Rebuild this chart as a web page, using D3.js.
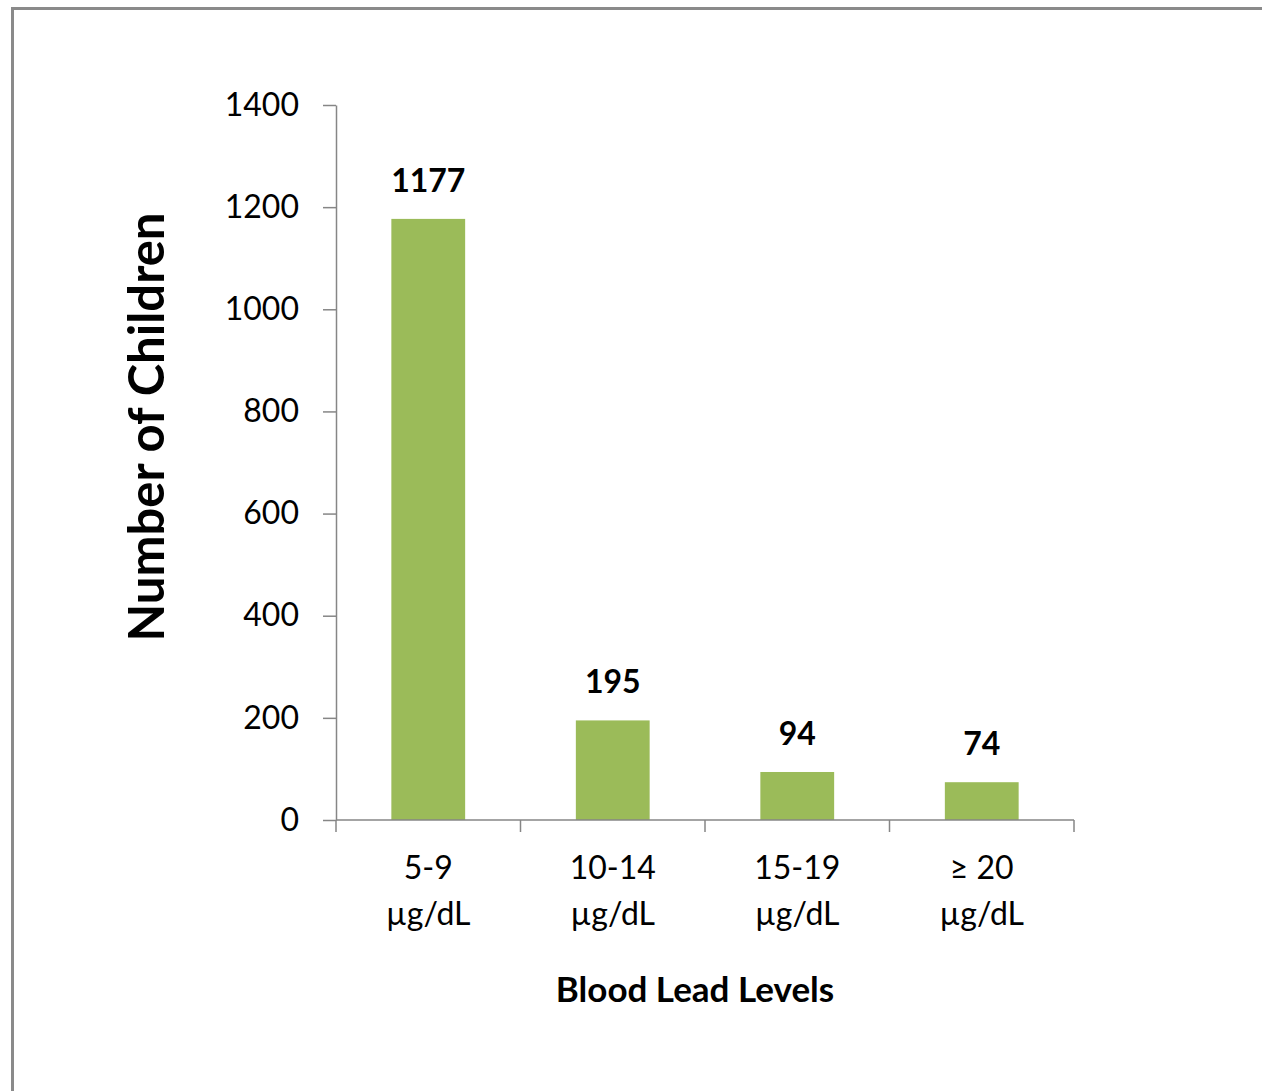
<!DOCTYPE html>
<html>
<head>
<meta charset="utf-8">
<script src="https://cdn.jsdelivr.net/npm/d3@7"></script>
<style>
  html, body { margin: 0; padding: 0; background: #fff; }
  svg { display: block; }
  text { font-family: Lato, "Open Sans", sans-serif; fill: #000; }
</style>
</head>
<body>
<svg id="chart" width="1262" height="1091"></svg>
<script>
const categories = ["5-9", "10-14", "15-19", "\u2265 20"];
const unitLabel = "\u00b5g/dL";
const values = [1177, 195, 94, 74];
const yTicks = [0, 200, 400, 600, 800, 1000, 1200, 1400];
const yTitle = "Number of Children";
const xTitle = "Blood Lead Levels";

const svg = d3.select("#chart");
const axisColor = "#868686";

// outer chart border (right & bottom run off the picture)
svg.append("rect")
  .attr("x", 12.5).attr("y", 8.5)
  .attr("width", 1300).attr("height", 1200)
  .attr("fill", "none")
  .attr("stroke", "#8a8a8a")
  .attr("stroke-width", 3);

const plot = { left: 336, right: 1074, top: 105, bottom: 820 };

const x = d3.scaleBand()
  .domain(categories)
  .range([plot.left, plot.right])
  .paddingInner(0.6)
  .paddingOuter(0.3);

const y = d3.scaleLinear()
  .domain([0, 1400])
  .range([plot.bottom, plot.top]);

// y axis
const yAxis = svg.append("g")
  .attr("transform", `translate(${plot.left},0)`)
  .call(d3.axisLeft(y).tickValues(yTicks).tickFormat(d3.format("d"))
    .tickSize(13).tickPadding(24).tickSizeOuter(0));
yAxis.select(".domain").attr("stroke", axisColor).attr("stroke-width", 1.5);
yAxis.selectAll(".tick line").attr("stroke", axisColor).attr("stroke-width", 1.5);
yAxis.selectAll(".tick text")
  .attr("font-family", "Lato, sans-serif")
  .attr("font-size", 32)
  .attr("fill", "#000");

// bars
svg.append("g").selectAll("rect")
  .data(values)
  .join("rect")
  .attr("x", (d, i) => x(categories[i]))
  .attr("y", d => y(d))
  .attr("width", x.bandwidth())
  .attr("height", d => y(0) - y(d))
  .attr("fill", "#9BBB59");

// x axis line and boundary ticks
const step = x.step();
const gap = (step - x.bandwidth()) / 2;
const boundaries = categories.map(c => x(c) - gap).concat([x(categories[categories.length - 1]) + x.bandwidth() + gap]);
svg.append("line")
  .attr("x1", plot.left).attr("x2", plot.right)
  .attr("y1", y(0)).attr("y2", y(0))
  .attr("stroke", axisColor).attr("stroke-width", 1.5);
svg.append("g").selectAll("line")
  .data(boundaries)
  .join("line")
  .attr("x1", d => d).attr("x2", d => d)
  .attr("y1", y(0)).attr("y2", y(0) + 12)
  .attr("stroke", axisColor).attr("stroke-width", 1.5);

// category labels
const catG = svg.append("g").selectAll("text")
  .data(categories)
  .join("text")
  .attr("text-anchor", "middle")
  .attr("font-size", 32);
catG.append("tspan")
  .attr("x", d => x(d) + x.bandwidth() / 2)
  .attr("y", y(0) + 59)
  .text(d => d);
catG.append("tspan")
  .attr("x", d => x(d) + x.bandwidth() / 2)
  .attr("y", y(0) + 105)
  .text(unitLabel);

// data labels
svg.append("g").selectAll("text")
  .data(values)
  .join("text")
  .attr("x", (d, i) => x(categories[i]) + x.bandwidth() / 2)
  .attr("y", d => y(d) - 27)
  .attr("text-anchor", "middle")
  .attr("font-size", 32)
  .attr("font-weight", "bold")
  .text(d => d);

// y title
svg.append("text")
  .attr("transform", `translate(164,427) rotate(-90)`)
  .attr("text-anchor", "middle")
  .attr("font-size", 49)
  .attr("font-weight", "bold")
  .text(yTitle);

// x title
svg.append("text")
  .attr("x", 695)
  .attr("y", 1002)
  .attr("text-anchor", "middle")
  .attr("font-size", 35)
  .attr("font-weight", "bold")
  .text(xTitle);
</script>
</body>
</html>
